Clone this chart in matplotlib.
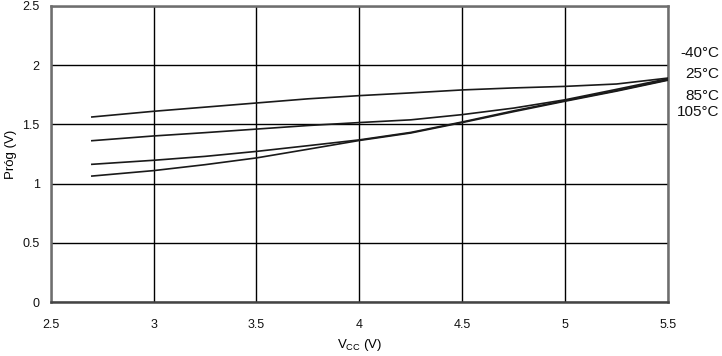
import matplotlib
matplotlib.use("Agg")
import matplotlib.pyplot as plt

plt.rcParams["font.family"] = ["Liberation Sans", "DejaVu Sans"]
plt.rcParams["mathtext.default"] = "regular"

# ── Data ─────────────────────────────────────────────────────
vcc = [2.7, 3.0, 3.25, 3.5, 3.75, 4.0, 4.25, 4.5, 4.75, 5.0, 5.25, 5.5]
prog_m40 = [1.562, 1.610, 1.645, 1.680, 1.715, 1.742, 1.765, 1.790, 1.807, 1.820, 1.840, 1.890]
prog_25 = [1.362, 1.402, 1.430, 1.460, 1.490, 1.515, 1.538, 1.582, 1.637, 1.707, 1.795, 1.885]
prog_85 = [1.163, 1.197, 1.230, 1.272, 1.320, 1.369, 1.432, 1.520, 1.614, 1.700, 1.785, 1.876]
prog_105 = [1.064, 1.110, 1.160, 1.217, 1.290, 1.364, 1.427, 1.515, 1.607, 1.695, 1.780, 1.872]
labels = ["-40°C", "25°C", "85°C", "105°C"]
x_ticks = [2.5, 3, 3.5, 4, 4.5, 5, 5.5]
y_ticks = [0, 0.5, 1, 1.5, 2, 2.5]

# ── Figure ───────────────────────────────────────────────────
fig = plt.figure(figsize=(7.22, 3.56), dpi=100)
ax = fig.add_axes([50.7 / 722, 1 - 302.3 / 356, (668 - 50.7) / 722, (302.3 - 5.7) / 356])

for series in [prog_m40, prog_25, prog_85, prog_105]:
    ax.plot(vcc, series, color="#1a1a1a", linewidth=1.2, zorder=3)

ax.set_xlim(2.5, 5.5)
ax.set_ylim(0, 2.5)
ax.set_xticks(x_ticks)
ax.set_xticklabels([f"{t:g}" for t in x_ticks])
ax.set_yticks(y_ticks)
ax.set_yticklabels([f"{t:g}" for t in y_ticks])
ax.tick_params(length=0, labelsize=9, colors="#111111")
ax.tick_params(axis="x", pad=12)
ax.tick_params(axis="y", pad=8)
ax.grid(True, color="#000000", linewidth=1.0)
ax.set_axisbelow(True)
for side in ["left", "right", "top", "bottom"]:
    ax.spines[side].set_color("#6e6e6e")
    ax.spines[side].set_linewidth(1.8)
ax.spines["bottom"].set_color("#444444")

ax.set_xlabel(r"V$_{CC}$ (V)", fontsize=9.5, labelpad=4)
ax.set_ylabel("Próg (V)", fontsize=9.5, labelpad=4)

# temperature labels to the right of the plot
label_y = [52.7, 74.5, 95.5, 111.5]
for txt, yp in zip(labels, label_y):
    fig.text(719 / 722, 1 - yp / 356, txt, ha="right", va="center", fontsize=11, color="#111111")

fig.savefig("out.png", dpi=100)
